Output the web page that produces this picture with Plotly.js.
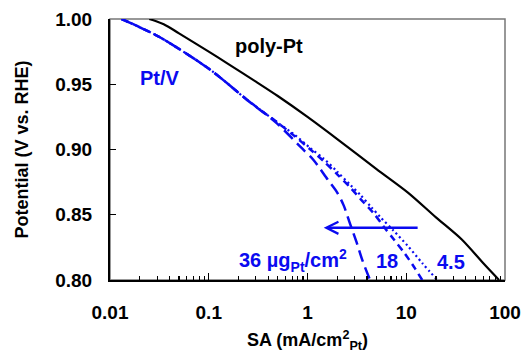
<!DOCTYPE html>
<html>
<head>
<meta charset="utf-8">
<script src="https://cdn.plot.ly/plotly-3.0.1.min.js"></script>
<style>html,body{margin:0;padding:0;background:#fff;}#chart{width:525px;height:353px;}</style>
</head>
<body>
<div id="chart"></div>
<script>
// poly-Pt (solid black)
const polySA = [0.025, 0.035, 0.05, 0.1, 0.154, 0.3, 0.5, 1.0, 2.0, 5.0, 10.4, 20, 36.5, 60, 87];
const polyV  = [1.000, 0.996, 0.989, 0.975, 0.966, 0.952, 0.941, 0.925, 0.908, 0.885, 0.867, 0.848, 0.831, 0.813, 0.800];

// Pt/V, 36 ugPt/cm2 (long dash)
const sa36 = [0.0131, 0.032, 0.104, 0.245, 0.49, 0.85, 1.15, 1.6, 2.0, 2.33, 2.7, 3.14, 3.6, 4.3];
const v36  = [1.000, 0.986, 0.961, 0.938, 0.920, 0.902, 0.892, 0.877, 0.867, 0.857, 0.843, 0.829, 0.815, 0.800];

// Pt/V, 18 ugPt/cm2 (dash)
const sa18 = [0.0131, 0.032, 0.104, 0.245, 0.49, 0.72, 1.07, 1.46, 2.0, 2.7, 3.45, 4.7, 5.9, 7.5, 9.5, 12.0, 14.5];
const v18  = [1.000, 0.986, 0.961, 0.938, 0.921, 0.911, 0.900, 0.891, 0.881, 0.871, 0.862, 0.851, 0.841, 0.831, 0.821, 0.810, 0.800];

// Pt/V, 4.5 ugPt/cm2 (dotted)
const sa45 = [0.0131, 0.032, 0.104, 0.245, 0.49, 0.72, 1.07, 1.46, 2.0, 2.7, 3.45, 4.4, 5.5, 7.4, 10.4, 14.5, 20.6];
const v45  = [1.000, 0.986, 0.961, 0.938, 0.921, 0.912, 0.901, 0.893, 0.883, 0.873, 0.865, 0.856, 0.848, 0.838, 0.826, 0.813, 0.800];

const xTickVals = [0.01, 0.1, 1, 10, 100];
const xTickText = ['0.01', '0.1', '1', '10', '100'];
const yTickVals = [0.80, 0.85, 0.90, 0.95, 1.00];
const yTickText = ['0.80', '0.85', '0.90', '0.95', '1.00'];

const arrowFrom = 13.5, arrowTo = 1.46, arrowV = 0.84;

const minorVals = [];
for (let d = 0; d < 4; d++) {
  for (let k = 2; k <= 9; k++) minorVals.push(k * Math.pow(10, d - 2));
}

const BLUE = 'rgb(10,10,240)';
const FONT = 'Liberation Sans, Arial, Helvetica, sans-serif';

const traces = [
  {x: polySA, y: polyV, mode: 'lines', line: {color: '#000', width: 2.2, shape: 'spline', smoothing: 0.8}, name: 'poly-Pt'},
  {x: sa36, y: v36, mode: 'lines', line: {color: BLUE, width: 2.5, dash: '12px,6px', shape: 'spline', smoothing: 0.8}, name: '36'},
  {x: sa18, y: v18, mode: 'lines', line: {color: BLUE, width: 2.5, dash: '7px,5px', shape: 'spline', smoothing: 0.8}, name: '18'},
  {x: sa45, y: v45, mode: 'lines', line: {color: BLUE, width: 2.2, dash: '2px,3px', shape: 'spline', smoothing: 0.8}, name: '4.5'}
];

const L = Math.log10;
const layout = {
  width: 525, height: 353,
  margin: {l: 110, r: 20, t: 19, b: 73},
  paper_bgcolor: '#fff', plot_bgcolor: '#fff',
  showlegend: false,
  font: {family: FONT, color: '#000'},
  xaxis: {
    type: 'log', range: [-2, 2],
    tickmode: 'array', tickvals: xTickVals, ticktext: xTickText,
    ticks: 'inside', ticklen: 7, tickwidth: 1.3, tickcolor: '#000',
    minor: {tickmode: 'array', tickvals: minorVals, ticks: 'inside', ticklen: 4, tickwidth: 1.1, tickcolor: '#000', showgrid: false},
    showgrid: false, zeroline: false,
    showline: true, linecolor: '#000', linewidth: 2,
    tickfont: {size: 19, weight: 'bold', family: FONT},
    ticklabelstandoff: 14,
    title: {text: 'SA (mA/cm<sup>2</sup><sub>Pt</sub>)', font: {size: 18, weight: 'bold', family: FONT}, standoff: 16}
  },
  yaxis: {
    range: [0.8, 1.0],
    tickmode: 'array', tickvals: yTickVals, ticktext: yTickText,
    ticks: 'inside', ticklen: 6, tickwidth: 1.3, tickcolor: '#000',
    showgrid: false, zeroline: false,
    showline: true, linecolor: '#000', linewidth: 2,
    tickfont: {size: 19, weight: 'bold', family: FONT},
    ticklabelstandoff: 12,
    title: {text: 'Potential (V vs. RHE)', font: {size: 18, weight: 'bold', family: FONT}, standoff: 22}
  },
  shapes: [
    {type: 'rect', xref: 'paper', yref: 'paper', x0: 0, x1: 1, y0: 0, y1: 1, line: {color: '#777', width: 1.5}, layer: 'below'}
  ],
  annotations: [
    {x: -0.386, y: 0.979, xref: 'x', yref: 'y', text: 'poly-Pt', showarrow: false, font: {size: 20, weight: 'bold', color: '#000', family: FONT}},
    {x: -1.496, y: 0.955, xref: 'x', yref: 'y', text: 'Pt/V', showarrow: false, font: {size: 20, weight: 'bold', color: BLUE, family: FONT}},
    {x: -0.711, y: 0.815, xref: 'x', yref: 'y', xanchor: 'left', text: '36 µg<sub>Pt</sub>/cm<sup>2</sup>', showarrow: false, font: {size: 20, weight: 'bold', color: BLUE, family: FONT}},
    {x: 0.806, y: 0.8145, xref: 'x', yref: 'y', text: '18', showarrow: false, font: {size: 20, weight: 'bold', color: BLUE, family: FONT}},
    {x: 1.457, y: 0.8135, xref: 'x', yref: 'y', text: '4.5', showarrow: false, font: {size: 20, weight: 'bold', color: BLUE, family: FONT}},
    {x: L(arrowTo), y: arrowV, ax: L(arrowFrom), ay: arrowV, xref: 'x', yref: 'y', axref: 'x', ayref: 'y',
     text: '', showarrow: true, arrowhead: 5, arrowsize: 0.95, arrowwidth: 2.5, arrowcolor: BLUE, standoff: 0}
  ]
};

Plotly.newPlot('chart', traces, layout, {displayModeBar: false, staticPlot: true});
</script>
</body>
</html>
